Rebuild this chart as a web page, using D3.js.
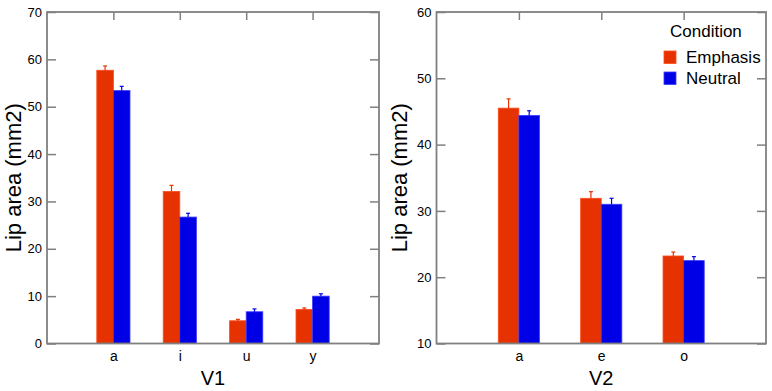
<!DOCTYPE html>
<html>
<head>
<meta charset="utf-8">
<script src="https://cdn.jsdelivr.net/npm/d3@7"></script>
<style>
  body { margin: 0; background: #fff; }
  svg text { font-family: "Liberation Sans", Arial, sans-serif; fill: #000; }
</style>
</head>
<body>
<svg width="772" height="391"></svg>
<script>
// panel 1: V1
const v1Cats = ["a", "i", "u", "y"];
const v1Emph = [57.7, 32.1, 4.8, 7.2];
const v1EmphErr = [0.9, 1.3, 0.3, 0.3];
const v1Neut = [53.4, 26.7, 6.7, 10.0];
const v1NeutErr = [0.9, 0.8, 0.6, 0.5];
const v1Ticks = [0, 10, 20, 30, 40, 50, 60, 70];

// panel 2: V2
const v2Cats = ["a", "e", "o"];
const v2Emph = [45.5, 31.9, 23.2];
const v2EmphErr = [1.4, 1.0, 0.6];
const v2Neut = [44.4, 31.0, 22.5];
const v2NeutErr = [0.7, 0.9, 0.6];
const v2Ticks = [10, 20, 30, 40, 50, 60];

const conditions = ["Emphasis", "Neutral"];
const fills = ["#e63200", "#0000e6"];
const strokes = ["#ff4a1a", "#3a3aff"];

const svg = d3.select("svg");
const frameColor = "#808080";

function panel(opts) {
  const {left, right, top, bottom, cats, emph, emphErr, neut, neutErr, ticks, xTitle, titleX} = opts;
  const g = svg.append("g");
  const x = d3.scaleLinear().domain([0, cats.length + 1]).range([left, right]);
  const y = d3.scaleLinear().domain([ticks[0], ticks[ticks.length - 1]]).range([bottom, top]);
  const bw = x(0.25) - x(0);

  const series = [
    {vals: emph, errs: emphErr, off: -0.25},
    {vals: neut, errs: neutErr, off: 0}
  ];

  series.forEach((s, si) => {
    const bars = g.append("g");
    bars.selectAll("rect").data(s.vals).join("rect")
      .attr("x", (d, i) => x(i + 1 + s.off))
      .attr("y", d => y(d))
      .attr("width", bw)
      .attr("height", d => y(ticks[0]) - y(d))
      .attr("fill", fills[si])
      .attr("stroke", strokes[si])
      .attr("stroke-width", 0.8);
    // error bars (upper only)
    const eb = g.append("g").attr("stroke", fills[si]).attr("stroke-width", 1.2);
    eb.selectAll("line.v").data(s.vals).join("line")
      .attr("class", "v")
      .attr("x1", (d, i) => x(i + 1 + s.off + 0.125))
      .attr("x2", (d, i) => x(i + 1 + s.off + 0.125))
      .attr("y1", d => y(d))
      .attr("y2", (d, i) => y(d + s.errs[i]));
    eb.selectAll("line.c").data(s.vals).join("line")
      .attr("class", "c")
      .attr("x1", (d, i) => x(i + 1 + s.off + 0.125) - 2)
      .attr("x2", (d, i) => x(i + 1 + s.off + 0.125) + 2)
      .attr("y1", (d, i) => y(d + s.errs[i]))
      .attr("y2", (d, i) => y(d + s.errs[i]));
  });

  // axes
  const axL = g.append("g").attr("transform", `translate(${left},0)`)
    .call(d3.axisLeft(y).tickValues(ticks).tickSize(-9).tickPadding(5).tickFormat(d3.format("d")));
  const axR = g.append("g").attr("transform", `translate(${right},0)`)
    .call(d3.axisRight(y).tickValues(ticks).tickSize(-9).tickFormat(""));
  const axT = g.append("g").attr("transform", `translate(0,${top})`)
    .call(d3.axisTop(x).tickValues(d3.range(1, cats.length + 1)).tickSize(-8).tickFormat(""));
  const axB = g.append("g").attr("transform", `translate(0,${bottom})`)
    .call(d3.axisBottom(x).tickValues(d3.range(1, cats.length + 1)).tickSize(0).tickPadding(8)
      .tickFormat(i => cats[i - 1]));
  [axL, axR, axT, axB].forEach(a => {
    a.select(".domain").remove();
    a.selectAll("line").attr("stroke", frameColor).attr("stroke-width", 1.5);
    a.selectAll("text").attr("font-size", 13).attr("fill", "#000");
  });
  axB.selectAll("text").attr("font-size", 14);

  g.append("rect")
    .attr("x", left).attr("y", top)
    .attr("width", right - left).attr("height", bottom - top)
    .attr("fill", "none").attr("stroke", frameColor).attr("stroke-width", 1.8);

  g.append("text")
    .attr("x", (left + right) / 2).attr("y", 385)
    .attr("text-anchor", "middle").attr("font-size", 20)
    .text(xTitle);

  g.append("text")
    .attr("transform", `translate(${titleX},${(top + bottom) / 2}) rotate(-90)`)
    .attr("text-anchor", "middle").attr("font-size", 22)
    .text("Lip area (mm2)");
}

panel({left: 47, right: 379, top: 12, bottom: 343.5,
  cats: v1Cats, emph: v1Emph, emphErr: v1EmphErr, neut: v1Neut, neutErr: v1NeutErr,
  ticks: v1Ticks, xTitle: "V1", titleX: 21});

panel({left: 436.5, right: 766, top: 12, bottom: 343.5,
  cats: v2Cats, emph: v2Emph, emphErr: v2EmphErr, neut: v2Neut, neutErr: v2NeutErr,
  ticks: v2Ticks, xTitle: "V2", titleX: 407});

// legend
const leg = svg.append("g");
leg.append("text").attr("x", 670).attr("y", 37).attr("font-size", 17).text("Condition");
const items = leg.selectAll("g.item").data(conditions).join("g").attr("class", "item")
  .attr("transform", (d, i) => `translate(664,${51 + i * 21})`);
items.append("rect").attr("width", 12).attr("height", 12.5)
  .attr("fill", (d, i) => fills[i]).attr("stroke", (d, i) => strokes[i]).attr("stroke-width", 0.8);
items.append("text").attr("x", 22).attr("y", 12).attr("font-size", 17).text(d => d);
</script>
</body>
</html>
